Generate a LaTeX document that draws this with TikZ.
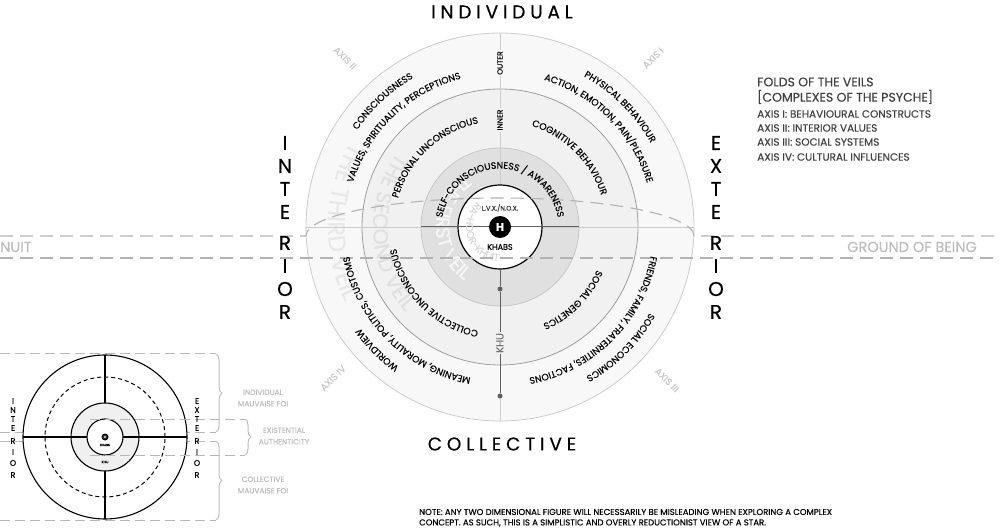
\documentclass[tikz,border=0pt]{standalone}
\usepackage{fontspec}
\setmainfont{Poppins}[FakeBold=0.3]
\newfontfamily\spacedfont[LetterSpace=26,FakeBold=0.3]{Poppins}
\usetikzlibrary{decorations.text,decorations.pathreplacing}
\definecolor{outerfill}{HTML}{F8F8F8}
\definecolor{innerfill}{HTML}{F1F1F1}
\definecolor{veilfill}{HTML}{E0E0E0}
\definecolor{faint}{HTML}{BDBDBD}
\newcommand\arcfont{\fontsize{9.3}{11}\selectfont}
\newcommand\veilfont{\fontsize{24}{26}\selectfont}

\begin{document}
\begin{tikzpicture}[x=1pt,y=1pt,
 font=\fontsize{9}{11}\selectfont,
 curved/.style={decorate,decoration={text along path,text align=center,text={#1}}},
 bigletter/.style={font=\fontsize{20}{20}\selectfont,inner sep=0pt},
 smallletter/.style={font=\fontsize{8}{8}\selectfont,inner sep=0pt},
 axislabel/.style={text=black!22,font=\fontsize{9.5}{10}\selectfont,inner sep=0pt},
 tag/.style={font=\fontsize{7.5}{8}\selectfont,inner sep=1.5pt,rotate=90},
 band/.style={draw=black!30,line width=1.1pt,dash pattern=on 13pt off 7pt},
 sideband/.style={draw=black!28,line width=1pt,dash pattern=on 10pt off 5pt},
 grayline/.style={draw=black!20,line width=0.8pt},
 darkline/.style={draw=black!62,line width=1pt},
 dot/.style={circle,fill=black!62,inner sep=0pt,minimum size=5pt},
 legend/.style={anchor=west,inner sep=0pt,text=black!75},
 mauvaise/.style={text=faint,align=center,font=\fontsize{7.5}{11.5}\selectfont,inner sep=0pt},
 bracket/.style={draw=faint,line width=1pt,decorate,decoration={brace,amplitude=6pt}}]

\useasboundingbox (0,0) rectangle (1000,530);
\coordinate (C) at (500,303);

\filldraw[fill=outerfill,draw=black!20,line width=0.8pt] (C) circle[radius=194];
\filldraw[fill=innerfill,draw=black!38,line width=0.8pt] (C) circle[radius=138];
\filldraw[fill=veilfill,draw=black!22,line width=0.8pt] (C) circle[radius=79];

\path[curved={|\veilfont\color{black!9}|THE THIRD VEIL}] (C) ++(100:172) arc[start angle=100,end angle=256,radius=172];
\path[curved={|\fontsize{21}{22}\selectfont\color{black!12}|THE SECOND VEIL}] (C) ++(103:127) arc[start angle=103,end angle=263,radius=127];
\path[curved={|\fontsize{19}{20}\selectfont\color{black!3}|THE FIRST VEIL}] (C) ++(80:64) arc[start angle=80,end angle=280,radius=64];

\draw[grayline] (500,109) -- (500,497);
\draw[grayline] (306,303) -- (694,303);
\draw[darkline] (421,303) -- (579,303);

\node[dot] (khutop) at (500,241) {};
\node[dot] (khubot) at (500,134) {};
\node[circle,draw=black,fill=white,line width=1.2pt,minimum size=84pt,inner sep=0pt] (core) at (C) {};
\draw[darkline] (core.south) -- (khutop);
\draw[darkline] (khutop) -- (khubot);
\draw[darkline] (core.west) -- (core.east);

\path[curved={|\fontsize{10}{11}\selectfont\color{black!15}|RA-HOOR-KHUIT}] (C) ++(100:34) arc[start angle=100,end angle=300,radius=34];

\draw[band] (0,294) -- (306,294) arc[start angle=180,end angle=0,x radius=194,y radius=38] -- (1000,294);
\draw[band] (0,272) -- (1000,272);

\node[circle,fill=black,minimum size=22pt,inner sep=0pt,text=white,font=\bfseries\fontsize{11}{11}\selectfont] (h) at (C) {H};
\node[font=\fontsize{6.5}{7}\selectfont,text=black!80] (lvx) at (500,322) {L.V.X./N.O.X.};
\node[font=\fontsize{8}{9}\selectfont] (khabs) at (500,283) {KHABS};

\path[curved={|\arcfont|CONSCIOUSNESS}] (C) ++(183:172.5) arc[start angle=183,end angle=83,radius=172.5];
\path[curved={|\arcfont|VALUES, SPIRITUALITY, PERCEPTIONS}] (C) ++(184:153.5) arc[start angle=184,end angle=84,radius=153.5];
\path[curved={|\arcfont|PHYSICAL BEHAVIOUR}] (C) ++(95:172.5) arc[start angle=95,end angle=-5,radius=172.5];
\path[curved={|\arcfont|ACTION, EMOTION, PAIN/PLEASURE}] (C) ++(95:153.5) arc[start angle=95,end angle=-5,radius=153.5];
\path[curved={|\arcfont|PERSONAL UNCONSCIOUS}] (C) ++(183:106) arc[start angle=183,end angle=83,radius=106];
\path[curved={|\arcfont|COGNITIVE BEHAVIOUR}] (C) ++(95:106) arc[start angle=95,end angle=-5,radius=106];
\path[curved={|\arcfont|SELF-CONSCIOUSNESS / AWARENESS}] (C) ++(190:58.5) arc[start angle=190,end angle=-10,radius=58.5];
\path[curved={|\arcfont|COLLECTIVE UNCONSCIOUS}] (C) ++(275:106) arc[start angle=275,end angle=175,radius=106];
\path[curved={|\arcfont|SOCIAL GENETICS}] (C) ++(365:106) arc[start angle=365,end angle=265,radius=106];
\path[curved={|\arcfont|WORLDVIEW}] (C) ++(275:172.5) arc[start angle=275,end angle=175,radius=172.5];
\path[curved={|\arcfont|MEANING, MORALITY, POLITICS, CUSTOMS}] (C) ++(275:153.5) arc[start angle=275,end angle=175,radius=153.5];
\path[curved={|\arcfont|SOCIAL ECONOMICS}] (C) ++(365:172.5) arc[start angle=365,end angle=265,radius=172.5];
\path[curved={|\arcfont|FRIENDS, FAMILY, FRATERNITIES, FACTIONS}] (C) ++(365:153.5) arc[start angle=365,end angle=265,radius=153.5];

\node[tag,fill=outerfill] (outer) at (500,467) {OUTER};
\node[tag,fill=innerfill] (inner) at (500,410) {INNER};
\node[tag,fill=innerfill,text=black!55,font=\fontsize{10}{10}\selectfont] (khu) at (500,187) {KHU};

\node[axislabel,rotate=45] (axis1) at (653,472) {AXIS I};
\node[axislabel,rotate=-45] (axis2) at (345,472) {AXIS II};
\node[axislabel,rotate=-45] (axis3) at (667,150) {AXIS III};
\node[axislabel,rotate=45] (axis4) at (333,152) {AXIS IV};

\node[font=\spacedfont\fontsize{18.5}{20}\selectfont] (individual) at (502,518) {INDIVIDUAL};
\node[font=\spacedfont\fontsize{18.5}{20}\selectfont] (collective) at (502,86) {COLLECTIVE};
\foreach \ch/\yy [count=\i] in {I/387,N/364,T/341,E/318,R/287,I/264,O/241,R/218}
  \node[bigletter] (int\i) at (285,\yy) {\ch};
\foreach \ch/\yy [count=\i] in {E/387,X/364,T/341,E/318,R/287,I/264,O/241,R/218}
  \node[bigletter] (ext\i) at (716,\yy) {\ch};

\node[anchor=west,inner sep=0pt,text=faint,font=\fontsize{14.5}{15}\selectfont] (nuit) at (0,283) {NUIT};
\node[anchor=east,inner sep=0pt,text=faint,font=\fontsize{14.5}{15}\selectfont] (ground) at (977,283) {GROUND OF BEING};

\node[legend,font=\fontsize{12.5}{13}\selectfont] (folds) at (757,448) {FOLDS OF THE VEILS};
\node[legend,font=\fontsize{12.5}{13}\selectfont] (complexes) at (757,433) {[COMPLEXES OF THE PSYCHE]};
\node[legend,font=\fontsize{10.5}{11}\selectfont] (ax1) at (757,416) {AXIS I: BEHAVIOURAL CONSTRUCTS};
\node[legend,font=\fontsize{10.5}{11}\selectfont] (ax2) at (757,402) {AXIS II: INTERIOR VALUES};
\node[legend,font=\fontsize{10.5}{11}\selectfont] (ax3) at (757,388) {AXIS III: SOCIAL SYSTEMS};
\node[legend,font=\fontsize{10.5}{11}\selectfont] (ax4) at (757,373) {AXIS IV: CULTURAL INFLUENCES};

\node[anchor=west,inner sep=0pt,font=\fontsize{8.5}{9}\selectfont] (note1) at (419,18) {NOTE: ANY TWO DIMENSIONAL FIGURE WILL NECESSARILY BE MISLEADING WHEN EXPLORING A COMPLEX};
\node[anchor=west,inner sep=0pt,font=\fontsize{8.5}{9}\selectfont] (note2) at (419,7) {CONCEPT. AS SUCH, THIS IS A SIMPLISTIC AND OVERLY REDUCTIONIST VIEW OF A STAR.};

\coordinate (S) at (105,93);
\draw[sideband] (0,176) -- (216,176);
\draw[sideband] (0,98) -- (216,98);
\draw[sideband] (0,89) -- (216,89);
\draw[sideband] (0,10) -- (216,10);
\filldraw[fill=white,line width=1.1pt] (S) circle[radius=82];
\draw[line width=1pt,dash pattern=on 4pt off 3pt] (S) circle[radius=60];
\draw[line width=1.1pt] (105,175) -- (105,11);
\filldraw[fill=black!6,line width=1.1pt] (S) circle[radius=34];
\draw[line width=1.1pt] (23,93) -- (187,93);
\filldraw[fill=white,line width=1.1pt] (S) circle[radius=18];
\node[circle,fill=black,minimum size=7pt,inner sep=0pt,text=white,font=\bfseries\fontsize{4}{4}\selectfont] (hs) at (S) {H};
\node[font=\fontsize{3}{3}\selectfont,inner sep=0pt] (khabss) at (105,85) {KHABS};
\node[font=\fontsize{3.5}{4}\selectfont,inner sep=0pt] (khus) at (105,68) {KHU};
\draw[sideband] (90,111) -- (245,111);
\draw[sideband] (90,75) -- (245,75);

\foreach \ch/\yy [count=\i] in {I/129,N/120,T/111,E/102,R/89,I/78,O/67,R/55}
  \node[smallletter] (sint\i) at (13,\yy) {\ch};
\foreach \ch/\yy [count=\i] in {E/129,X/120,T/111,E/102,R/89,I/78,O/67,R/55}
  \node[smallletter] (sext\i) at (197,\yy) {\ch};

\draw[bracket] (216,176) -- (216,98);
\draw[bracket] (245,111) -- (245,75);
\draw[bracket] (216,89) -- (216,10);
\node[mauvaise] (indiv) at (263,132) {INDIVIDUAL\\MAUVAISE FOI};
\node[mauvaise] (exist) at (284,94) {EXISTENTIAL\\AUTHENTICITY};
\node[mauvaise] (collec) at (263,45) {COLLECTIVE\\MAUVAISE FOI};
\end{tikzpicture}
\end{document}
